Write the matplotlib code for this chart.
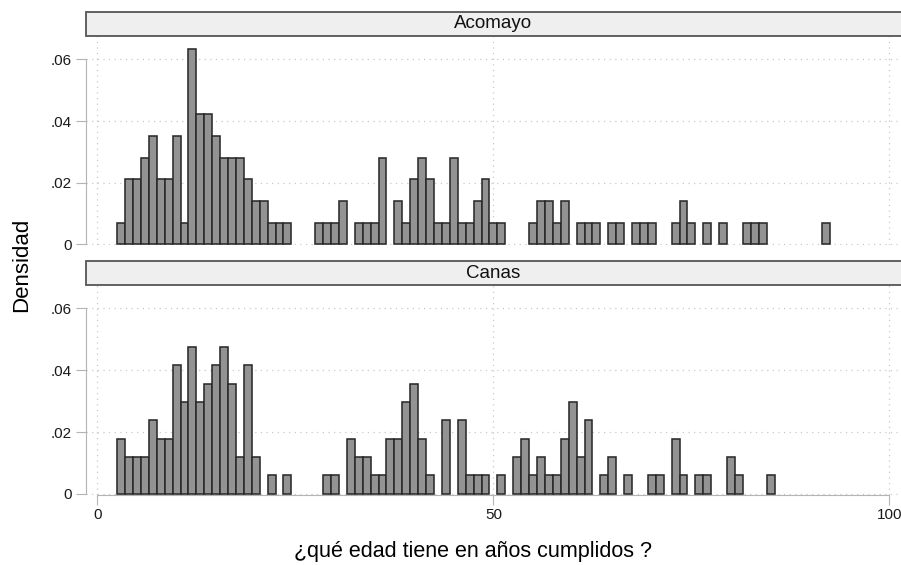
import numpy as np
import matplotlib
matplotlib.use("Agg")
import matplotlib.pyplot as plt
from matplotlib.patches import Rectangle

plt.rcParams['font.family'] = ['Liberation Sans', 'DejaVu Sans']

# ages (years) and number of people at each age
acomayo_age = [3, 4, 5, 6, 7, 8, 9, 10, 11, 12, 13, 14, 15, 16, 17, 18, 19, 20, 21, 22, 23, 24,
               28, 29, 30, 31, 33, 34, 35, 36,
               38, 39, 40, 41, 42, 43, 44, 45, 46, 47, 48, 49, 50, 51,
               55, 56, 57, 58, 59, 61, 62, 63, 65, 66, 68, 69, 70,
               73, 74, 75, 77, 79, 82, 83, 84, 92]
acomayo_n = [1, 3, 3, 4, 5, 3, 3, 5, 1, 9, 6, 6, 5, 4, 4, 4, 3, 2, 2, 1, 1, 1,
             1, 1, 1, 2, 1, 1, 1, 4,
             2, 1, 3, 4, 3, 1, 1, 4, 1, 1, 2, 3, 1, 1,
             1, 2, 2, 1, 2, 1, 1, 1, 1, 1, 1, 1, 1,
             1, 2, 1, 1, 1, 1, 1, 1, 1]

canas_age = [3, 4, 5, 6, 7, 8, 9, 10, 11, 12, 13, 14, 15, 16, 17, 18, 19, 20, 22, 24,
             29, 30, 32, 33, 34, 35, 36, 37, 38, 39, 40, 41, 42, 44, 46, 47, 48, 49, 51,
             53, 54, 55, 56, 57, 58, 59, 60, 61, 62, 64, 65, 67, 70, 71,
             73, 74, 76, 77, 80, 81, 85]
canas_n = [3, 2, 2, 2, 4, 3, 3, 7, 5, 8, 5, 6, 7, 8, 6, 2, 7, 2, 1, 1,
           1, 1, 3, 2, 2, 1, 1, 3, 3, 5, 6, 3, 1, 4, 4, 1, 1, 1, 1,
           2, 3, 1, 2, 1, 1, 3, 5, 2, 4, 1, 2, 1, 1, 1,
           3, 1, 1, 1, 2, 1, 1]

groups = ["Acomayo", "Canas"]
ages = [acomayo_age, canas_age]
counts = [acomayo_n, canas_n]

yticks = [0, 0.02, 0.04, 0.06]
ytick_labels = ["0", ".02", ".04", ".06"]
xticks = [0, 50, 100]

W, H = 901, 565
fig = plt.figure(figsize=(W / 100, H / 100), dpi=100)

# pixel boxes: (strip top, axes top, axes bottom)
panels = [(12, 36, 245), (261, 285, 494.5)]
left_px, right_px = 86, 899
grid_kw = dict(color='#c8c8c8', lw=0.9, ls=(0, (1, 3.5)), zorder=0)

for i, (name, a, n) in enumerate(zip(groups, ages, counts)):
    strip_top, ax_top, ax_bot = panels[i]
    ax = fig.add_axes([left_px / W, 1 - ax_bot / H, (right_px - left_px) / W, (ax_bot - ax_top) / H])
    dens = np.array(n) / np.sum(n)
    ax.bar(a, dens, width=1, color='#939393', edgecolor='#2a2a2a', lw=1.15, zorder=3)
    ax.set_xlim(-1.43, 101.2)
    ax.set_ylim(-0.0002, 0.0676)

    for y in yticks:
        ax.axhline(y, **grid_kw)
    for x in xticks:
        ax.axvline(x, **grid_kw)

    for s in ['top', 'right']:
        ax.spines[s].set_visible(False)
    ax.spines['left'].set_color('#b4b4b4')
    ax.spines['left'].set_bounds(0, 0.06)
    ax.set_yticks(yticks)
    ax.set_yticklabels(ytick_labels, fontsize=11)
    ax.tick_params(axis='y', length=7, color='#b4b4b4', pad=3, labelcolor='#1a1a1a')

    if i == 1:
        ax.spines['bottom'].set_color('#b4b4b4')
        ax.spines['bottom'].set_bounds(0, 100)
        ax.set_xticks(xticks)
        ax.set_xticklabels([str(x) for x in xticks], fontsize=11)
        ax.tick_params(axis='x', length=7, color='#b4b4b4', pad=3, labelcolor='#1a1a1a')
    else:
        ax.spines['bottom'].set_visible(False)
        ax.set_xticks([])

    # panel title strip
    fig.patches.append(Rectangle((left_px / W, 1 - ax_top / H), (W + 10 - left_px) / W,
                                 (ax_top - strip_top) / H, transform=fig.transFigure,
                                 facecolor='#efefef', edgecolor='#555555', lw=1.3))
    fig.text((left_px + 901) / 2 / W, 1 - (strip_top + ax_top) / 2 / H, name,
             ha='center', va='center', fontsize=13.5, color='#111111')

fig.text(22 / W, 1 - 265 / H, "Densidad", rotation=90, ha='center', va='center', fontsize=16)
fig.text(473 / W, 1 - 551 / H, "¿qué edad tiene en años cumplidos ?", ha='center', va='center',
         fontsize=15.5)

fig.savefig("out.png", dpi=100)
